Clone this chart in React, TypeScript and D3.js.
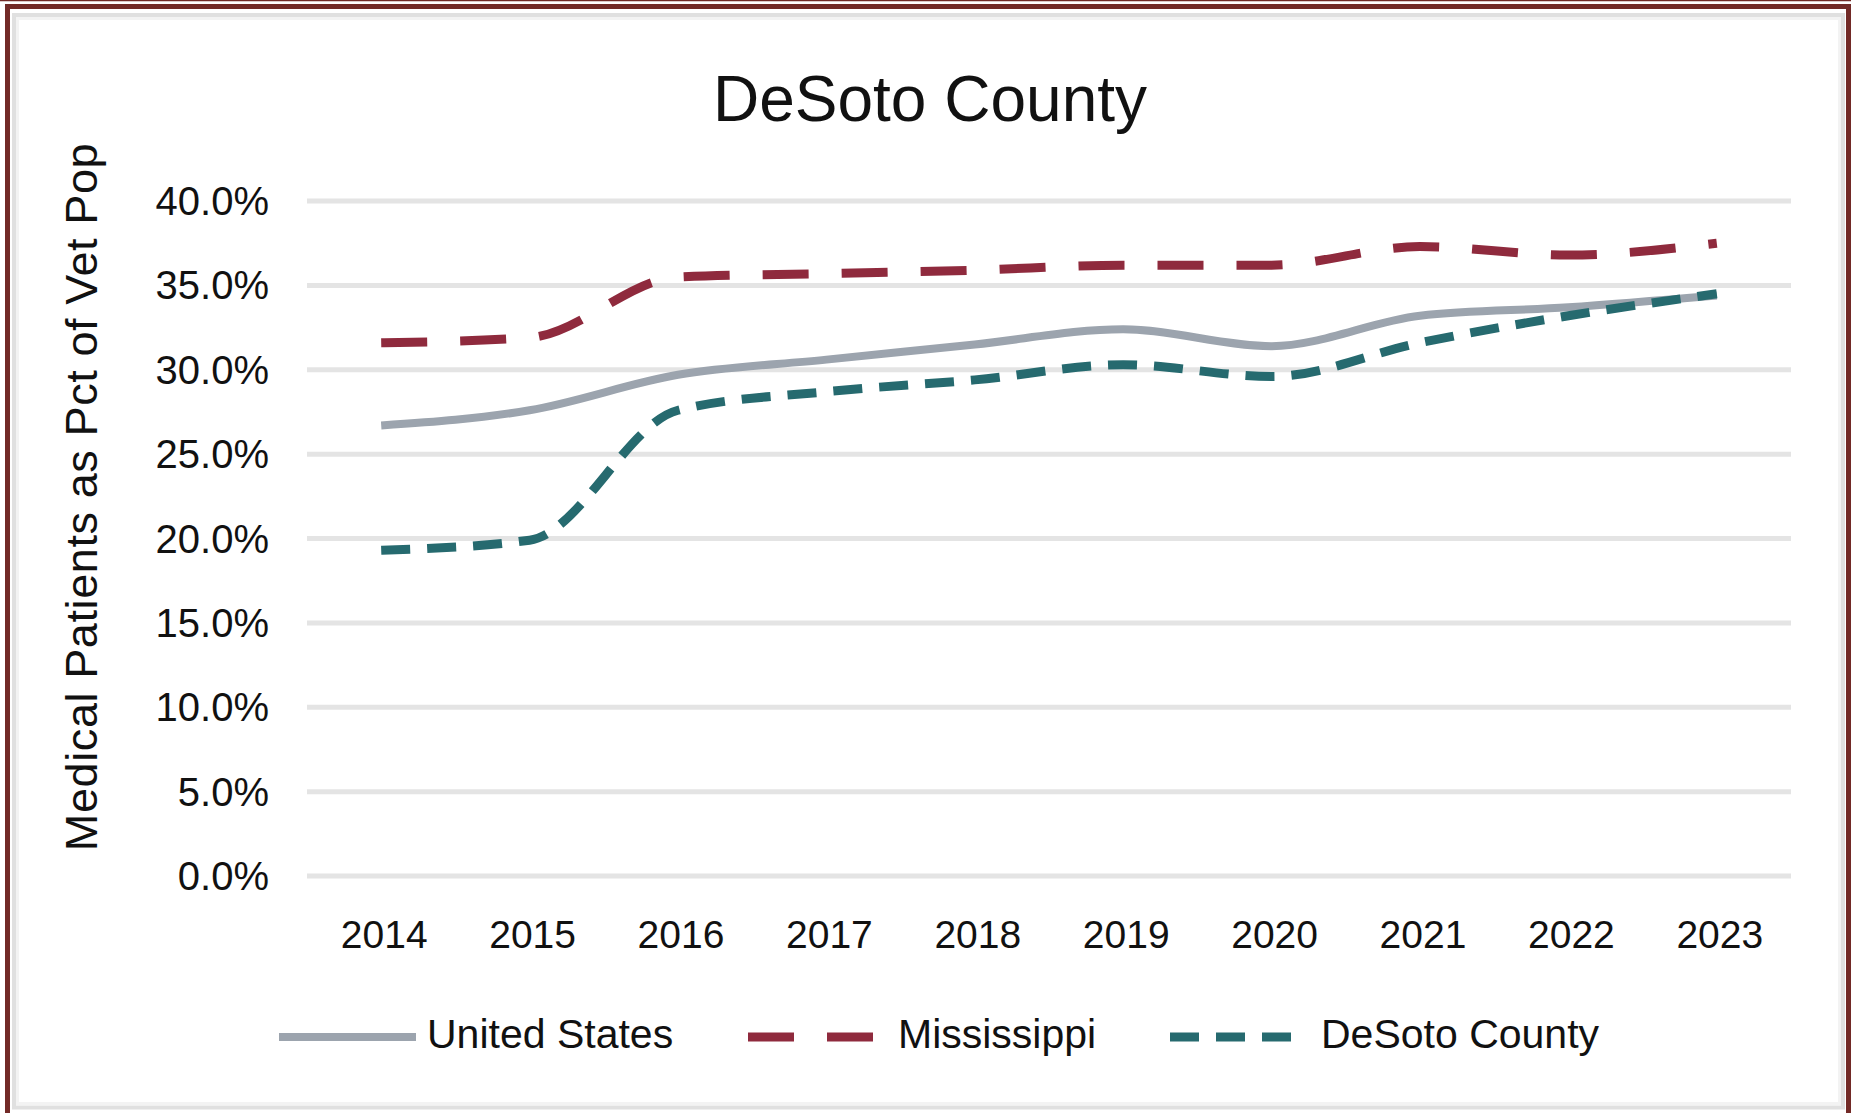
import React, { useEffect, useRef } from "react"
import * as d3 from "d3"

// ---------- Data ----------
const years = [2014, 2015, 2016, 2017, 2018, 2019, 2020, 2021, 2022, 2023]
const unitedStates = [26.7, 27.6, 29.7, 30.6, 31.5, 32.4, 31.4, 33.2, 33.7, 34.4]
const mississippi = [31.6, 31.9, 35.5, 35.7, 35.9, 36.2, 36.2, 37.3, 36.8, 37.5]
const desotoCounty = [19.3, 19.9, 27.6, 28.7, 29.4, 30.3, 29.6, 31.6, 33.2, 34.5]
const yTicks = [0, 5, 10, 15, 20, 25, 30, 35, 40]
const seriesNames = ["United States", "Mississippi", "DeSoto County"]

const FONT = "'Liberation Sans', Arial, sans-serif"
const W = 1851
const H = 1113

const seriesStyle = [
    { color: "#9ca4ae", dash: null as string | null, width: 8 },
    { color: "#8f2a3d", dash: "46 33", width: 9 },
    { color: "#266a6f", dash: "29 17", width: 9 },
]

// ---------- Component ----------
const App: React.FC = () => {
    const svgRef = useRef<SVGSVGElement>(null)

    useEffect(() => {
        if (!svgRef.current) return
        const svg = d3.select(svgRef.current)
        svg.selectAll("*").remove()

        svg.append("rect").attr("width", W).attr("height", H).attr("fill", "#fff")

        // frame
        svg.append("line").attr("x1", 0).attr("x2", W).attr("y1", 0.5).attr("y2", 0.5)
            .attr("stroke", "#722a27").attr("stroke-width", 1.5)
        svg.append("rect").attr("x", 7.5).attr("y", 6.5).attr("width", 1841).attr("height", 1120)
            .attr("fill", "none").attr("stroke", "#722a27").attr("stroke-width", 5)
        svg.append("rect").attr("x", 14).attr("y", 15).attr("width", 1829).attr("height", 1092.5)
            .attr("fill", "none").attr("stroke", "#e0e0e0").attr("stroke-width", 4)
        svg.append("rect").attr("x", 17.5).attr("y", 18.5).attr("width", 1822).attr("height", 1085)
            .attr("fill", "none").attr("stroke", "#f3f3f3").attr("stroke-width", 3)

        // scales
        const x = d3.scalePoint<number>().domain(years).range([307, 1791]).padding(0.5)
        const y = d3.scaleLinear().domain([0, 40]).range([876, 201])

        // grid
        svg.append("g").selectAll("line").data(yTicks).enter().append("line")
            .attr("x1", 307).attr("x2", 1791)
            .attr("y1", d => y(d)).attr("y2", d => y(d))
            .attr("stroke", "#e4e4e4").attr("stroke-width", 5)

        // y tick labels
        svg.append("g").selectAll("text").data(yTicks).enter().append("text")
            .attr("x", 269).attr("y", d => y(d) + 14)
            .attr("text-anchor", "end")
            .attr("font-family", FONT).attr("font-size", 40).attr("fill", "#111")
            .text(d => d.toFixed(1) + "%")

        // x tick labels
        svg.append("g").selectAll("text").data(years).enter().append("text")
            .attr("x", d => (x(d) ?? 0) + 3).attr("y", 948)
            .attr("text-anchor", "middle")
            .attr("font-family", FONT).attr("font-size", 39).attr("fill", "#111")
            .text(d => String(d))

        // lines
        const allSeries = [unitedStates, mississippi, desotoCounty]
        const line = d3.line<number>()
            .x((_, i) => x(years[i]) ?? 0)
            .y(d => y(d))
            .curve(d3.curveMonotoneX)

        allSeries.forEach((vals, i) => {
            const st = seriesStyle[i]
            const p = svg.append("path")
                .attr("d", line(vals) ?? "")
                .attr("fill", "none")
                .attr("stroke", st.color)
                .attr("stroke-width", st.width)
                .attr("stroke-linecap", "butt")
                .attr("stroke-linejoin", "round")
            if (st.dash) p.attr("stroke-dasharray", st.dash)
        })

        // title
        svg.append("text")
            .attr("x", 930).attr("y", 121)
            .attr("text-anchor", "middle")
            .attr("font-family", FONT).attr("font-size", 64).attr("fill", "#111")
            .text("DeSoto County")

        // y axis title
        svg.append("text")
            .attr("transform", "translate(97,497) rotate(-90)")
            .attr("text-anchor", "middle")
            .attr("font-family", FONT).attr("font-size", 45).attr("fill", "#111")
            .attr("letter-spacing", 0.6)
            .text("Medical Patients as Pct of Vet Pop")

        // legend
        const legendItems = [
            { x1: 279, x2: 416, tx: 427 },
            { x1: 748, x2: 876, tx: 898 },
            { x1: 1170, x2: 1296, tx: 1321 },
        ]
        const lg = svg.append("g")
        legendItems.forEach((it, i) => {
            const st = seriesStyle[i]
            const l = lg.append("line")
                .attr("x1", it.x1).attr("x2", it.x2)
                .attr("y1", 1037).attr("y2", 1037)
                .attr("stroke", st.color).attr("stroke-width", st.width)
            if (st.dash) l.attr("stroke-dasharray", st.dash)
            lg.append("text")
                .attr("x", it.tx).attr("y", 1048)
                .attr("font-family", FONT).attr("font-size", 41).attr("fill", "#111")
                .text(seriesNames[i])
        })
    }, [])

    return (
        <svg
            ref={svgRef}
            width={W}
            height={H}
            style={{ position: "absolute", left: 0, top: 0, display: "block" }}
        />
    )
}

export default App
